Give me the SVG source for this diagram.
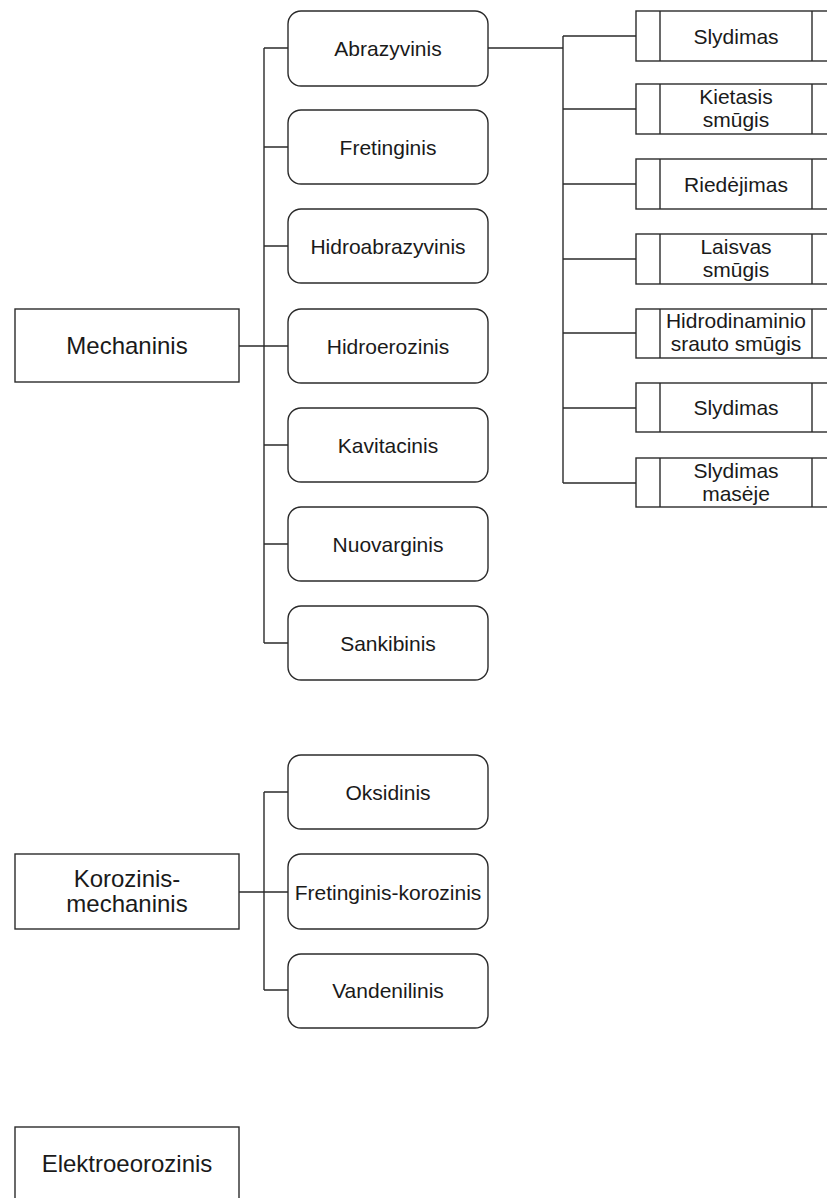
<svg xmlns="http://www.w3.org/2000/svg" width="827" height="1198" viewBox="0 0 827 1198">
<style>
.box{fill:#fff;stroke:#2b2b2b;stroke-width:1.4}
.line{fill:none;stroke:#2b2b2b;stroke-width:1.4}
.big{font-family:"Liberation Sans",Arial,sans-serif;font-size:24px;fill:#1a1a1a;text-anchor:middle}
.sm{font-family:"Liberation Sans",Arial,sans-serif;font-size:21px;fill:#1a1a1a;text-anchor:middle}
</style>
<rect width="827" height="1198" fill="#fff"/>
<g id="connectors">
<path class="line" d="M239,346 H288 M264,48 V643 M264,48 H288 M264,147 H288 M264,246 H288 M264,445 H288 M264,544 H288 M264,643 H288"/>
<path class="line" d="M488,48 H563 M563,36 V483 M563,36 H636 M563,109 H636 M563,184 H636 M563,259 H636 M563,333 H636 M563,408 H636 M563,483 H636"/>
<path class="line" d="M239,892 H288 M264,792 V990 M264,792 H288 M264,990 H288"/>
</g>
<g id="mechaninis"><rect class="box" x="15" y="309" width="224" height="73"/><text class="big" x="127" y="354">Mechaninis</text></g>
<g id="abrazyvinis"><rect class="box" x="288" y="11" width="200" height="75" rx="13"/><text class="sm" x="388" y="55.5">Abrazyvinis</text></g>
<g id="fretinginis"><rect class="box" x="288" y="110" width="200" height="74" rx="13"/><text class="sm" x="388" y="154.5">Fretinginis</text></g>
<g id="hidroabrazyvinis"><rect class="box" x="288" y="209" width="200" height="74" rx="13"/><text class="sm" x="388" y="253.5">Hidroabrazyvinis</text></g>
<g id="hidroerozinis"><rect class="box" x="288" y="309" width="200" height="74" rx="13"/><text class="sm" x="388" y="353.5">Hidroerozinis</text></g>
<g id="kavitacinis"><rect class="box" x="288" y="408" width="200" height="74" rx="13"/><text class="sm" x="388" y="452.5">Kavitacinis</text></g>
<g id="nuovarginis"><rect class="box" x="288" y="507" width="200" height="74" rx="13"/><text class="sm" x="388" y="551.5">Nuovarginis</text></g>
<g id="sankibinis"><rect class="box" x="288" y="606" width="200" height="74" rx="13"/><text class="sm" x="388" y="650.5">Sankibinis</text></g>
<g id="slydimas1"><rect class="box" x="636" y="11" width="200" height="50"/><path class="line" d="M660,11 V61 M812,11 V61"/><text class="sm" x="736" y="43.5">Slydimas</text></g>
<g id="kietasis"><rect class="box" x="636" y="84" width="200" height="50"/><path class="line" d="M660,84 V134 M812,84 V134"/><text class="sm" x="736" y="104">Kietasis</text><text class="sm" x="736" y="127">smūgis</text></g>
<g id="riedejimas"><rect class="box" x="636" y="159" width="200" height="50"/><path class="line" d="M660,159 V209 M812,159 V209"/><text class="sm" x="736" y="191.5">Riedėjimas</text></g>
<g id="laisvas"><rect class="box" x="636" y="234" width="200" height="50"/><path class="line" d="M660,234 V284 M812,234 V284"/><text class="sm" x="736" y="254">Laisvas</text><text class="sm" x="736" y="277">smūgis</text></g>
<g id="hidrodinaminio"><rect class="box" x="636" y="309" width="200" height="49"/><path class="line" d="M660,309 V358 M812,309 V358"/><text class="sm" x="736" y="328">Hidrodinaminio</text><text class="sm" x="736" y="351">srauto smūgis</text></g>
<g id="slydimas2"><rect class="box" x="636" y="383" width="200" height="49"/><path class="line" d="M660,383 V432 M812,383 V432"/><text class="sm" x="736" y="415">Slydimas</text></g>
<g id="slydimas-maseje"><rect class="box" x="636" y="458" width="200" height="49"/><path class="line" d="M660,458 V507 M812,458 V507"/><text class="sm" x="736" y="478">Slydimas</text><text class="sm" x="736" y="501">masėje</text></g>
<g id="korozinis"><rect class="box" x="15" y="854" width="224" height="75"/><text class="big" x="127" y="887">Korozinis-</text><text class="big" x="127" y="912">mechaninis</text></g>
<g id="oksidinis"><rect class="box" x="288" y="755" width="200" height="74" rx="13"/><text class="sm" x="388" y="799.5">Oksidinis</text></g>
<g id="fretinginis-korozinis"><rect class="box" x="288" y="854" width="200" height="75" rx="13"/><text class="sm" x="388" y="899.5">Fretinginis-korozinis</text></g>
<g id="vandenilinis"><rect class="box" x="288" y="954" width="200" height="74" rx="13"/><text class="sm" x="388" y="998">Vandenilinis</text></g>
<g id="elektroeorozinis"><rect class="box" x="15" y="1127" width="224" height="75"/><text class="big" x="127" y="1172">Elektroeorozinis</text></g>
</svg>
